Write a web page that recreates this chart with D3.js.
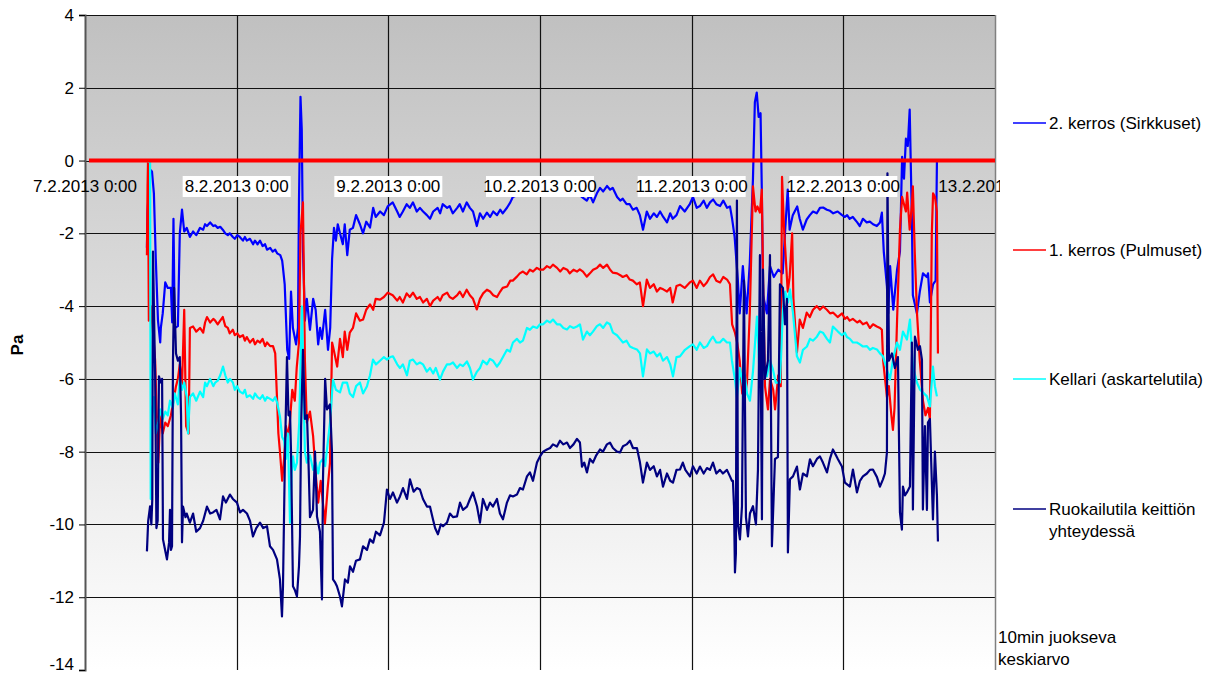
<!DOCTYPE html>
<html>
<head>
<meta charset="utf-8">
<script src="https://cdn.jsdelivr.net/npm/d3@7.9.0/dist/d3.min.js"></script>
<style>
  body { margin: 0; background: #fff; }
  svg { display: block; font-family: "Liberation Sans", Arial, sans-serif; }
</style>
</head>
<body>
<svg id="chart" width="1212" height="674"></svg>
<script>
// hours since 7.2.2013 0:00, Pa
const xLabels = ['7.2.2013 0:00', '8.2.2013 0:00', '9.2.2013 0:00', '10.2.2013 0:00',
  '11.2.2013 0:00', '12.2.2013 0:00', '13.2.2013 0:00'];
const xLabelHours = [0, 24, 48, 72, 96, 120, 144];
const yTicks = [4, 2, 0, -2, -4, -6, -8, -10, -12, -14];

const names = ['2. kerros (Sirkkuset)', '1. kerros (Pulmuset)', 'Kellari (askartelutila)', 'Ruokailutila keittiön|yhteydessä'];
const colors = ['#0000ff', '#ff0000', '#00ffff', '#000080'];

const sirkkuset = [
  [9.8,-2.4],[9.9,-1.4],[10.3,-0.25],[10.6,-0.3],[10.9,-0.9],[11.2,-2.7],[11.55,-4.4],[11.9,-5.0],[12.0,-4.6],[12.3,-4.2],
  [12.7,-3.35],[13.1,-3.5],[13.6,-3.5],[13.8,-4.45],[14.0,-1.6],[14.2,-4.6],[14.7,-4.55],[15.0,-2.0],[15.35,-1.35],[15.7,-1.95],
  [16.1,-1.85],[16.6,-2.1],[17.1,-1.95],[17.6,-2.05],[18.2,-1.85],[18.7,-1.9],[19.0,-1.75],[19.3,-1.8],[19.8,-1.7],[20.3,-1.8],
  [20.6,-1.78],[21.0,-1.85],[21.4,-1.82],[21.8,-1.9],[22.2,-2.0],[22.6,-2.05],[22.9,-2.0],[23.4,-2.1],[23.7,-2.15],[24.1,-2.05],
  [24.5,-2.1],[25.0,-2.2],[25.3,-2.1],[25.6,-2.2],[26.1,-2.15],[26.6,-2.3],[26.9,-2.2],[27.3,-2.3],[27.7,-2.2],[28.1,-2.35],
  [28.5,-2.3],[28.8,-2.45],[29.3,-2.4],[29.7,-2.5],[30.1,-2.45],[30.4,-2.55],[30.9,-2.6],[31.2,-2.75],[31.3,-2.9],
  [31.6,-3.4],[32.0,-5.2],[32.3,-5.45],[32.6,-3.6],[32.9,-4.6],[33.4,-5.05],[33.7,-4.6],[33.86,-1.1],[34.1,1.75],[34.3,0.85],
  [34.5,-2.5],[34.8,-4.4],[35.1,-3.8],[35.6,-4.65],[36.1,-3.8],[36.5,-4.1],[36.9,-5.05],[37.2,-4.6],[37.5,-4.9],[38.0,-4.1],
  [38.45,-5.2],[38.8,-4.6],[39.1,-2.7],[39.4,-1.85],[39.7,-2.2],[40.0,-1.75],[40.35,-2.0],[40.8,-2.3],[41.1,-1.75],[41.5,-2.6],
  [41.9,-1.9],[42.4,-1.85],[42.9,-1.5],[43.5,-1.75],[44.0,-2.0],[44.5,-1.68],[45.1,-1.84],[45.6,-1.3],[46.0,-1.55],[46.7,-1.4],
  [47.3,-1.5],[47.9,-1.26],[48.7,-1.15],[49.4,-1.4],[49.8,-1.55],[50.3,-1.4],[50.9,-1.2],[51.4,-1.3],[51.9,-1.15],[52.5,-1.4],
  [53.0,-1.3],[53.5,-1.4],[54.1,-1.5],[54.6,-1.6],[55.1,-1.4],[55.8,-1.3],[56.2,-1.45],[56.6,-1.2],[57.3,-1.3],[57.7,-1.25],
  [58.2,-1.45],[58.9,-1.3],[59.3,-1.2],[59.8,-1.4],[60.4,-1.15],[60.9,-1.3],[61.4,-1.4],[62.0,-1.8],[62.5,-1.45],[63.0,-1.6],
  [63.6,-1.43],[64.1,-1.55],[64.6,-1.4],[65.2,-1.5],[65.7,-1.35],[66.1,-1.45],[66.8,-1.29],[67.3,-1.15],[67.7,-1.0],[68.35,-0.95],
  [69.0,-0.85],[69.9,-0.75],[70.9,-0.9],[72.0,-0.8],[73.1,-0.7],[74.1,-0.85],[75.2,-0.75],[76.3,-0.85],[77.3,-0.8],[78.3,-0.9],
  [78.6,-1.0],[79.4,-1.1],[79.9,-0.95],[80.4,-1.15],[81.0,-0.9],[81.5,-0.75],[82.0,-0.85],[82.6,-0.7],[83.1,-0.8],[83.5,-0.75],
  [84.2,-1.0],[84.7,-1.1],[85.1,-1.05],[85.7,-1.2],[86.2,-1.2],[86.7,-1.35],[87.3,-1.3],[87.8,-1.5],[88.3,-1.9],[88.9,-1.4],
  [89.4,-1.6],[90.0,-1.45],[90.5,-1.55],[91.0,-1.4],[91.5,-1.55],[92.1,-1.7],[92.6,-1.45],[93.0,-1.6],[93.6,-1.5],[94.15,-1.25],
  [94.9,-1.4],[95.7,-1.2],[96.2,-1.0],[96.8,-1.3],[97.3,-1.25],[97.9,-1.1],[98.4,-1.3],[98.9,-1.15],[99.4,-1.07],[99.9,-1.2],
  [100.5,-1.25],[101.0,-1.1],[101.6,-1.3],[102.06,-1.26],[102.4,-1.6],[102.8,-2.1],[103.3,-3.27],[103.6,-4.2],[104.1,-2.9],[104.7,-4.2],
  [105.2,-2.8],[105.7,-0.5],[106.0,1.6],[106.3,1.87],[106.6,1.2],[106.9,1.3],[107.1,-0.8],[107.3,-3.7],[107.9,-4.2],[108.4,-2.9],
  [109.0,-3.2],[109.7,-3.0],[110.4,-3.1],[110.8,-1.9],[111.2,-0.8],[111.5,-1.9],[112.0,-1.5],[112.7,-1.26],[113.1,-1.6],[113.6,-1.9],
  [114.2,-1.62],[114.7,-1.5],[115.2,-1.4],[115.8,-1.45],[116.3,-1.3],[116.8,-1.29],[117.4,-1.35],[117.9,-1.38],[118.4,-1.45],[119.1,-1.4],
  [119.8,-1.5],[120.25,-1.55],[120.6,-1.5],[121.0,-1.6],[121.5,-1.55],[122.2,-1.7],[122.6,-1.8],[123.1,-1.6],[123.7,-1.7],[124.2,-1.68],
  [124.7,-1.75],[125.3,-1.8],[125.8,-1.7],[126.1,-1.43],[126.4,-2.5],[126.9,-3.46],[127.1,-4.2],[127.4,-2.9],[127.9,-4.1],[128.5,-3.0],
  [128.96,-2.5],[129.3,0.1],[129.6,-0.5],[129.9,0.6],[130.2,0.4],[130.5,1.4],[130.85,-1.62],[131.0,-3.7],[131.65,-4.2],[132.1,-3.6],
  [132.6,-3.1],[133.2,-3.2],[133.4,-3.1],[133.7,-3.9],[134.2,-3.4],[134.6,-3.3],[134.81,-0.03]
];

const pulmuset = [
  [9.8,-2.6],[9.9,-0.7],[9.97,-0.03],[10.1,-4.4],[10.4,-4.0],[10.7,-4.6],[11.1,-5.5],[11.4,-7.3],[11.6,-8.3],[11.9,-7.0],
  [12.3,-7.5],[12.7,-7.2],[13.1,-7.3],[13.6,-7.0],[14.0,-6.6],[14.4,-6.2],[14.7,-6.0],[15.0,-5.6],[15.35,-6.2],[15.7,-4.1],
  [16.0,-7.3],[16.4,-7.5],[16.6,-4.6],[17.1,-4.56],[17.6,-4.7],[18.2,-4.6],[18.7,-4.73],[19.0,-4.45],[19.3,-4.3],[19.8,-4.45],
  [20.3,-4.35],[20.6,-4.4],[21.0,-4.5],[21.4,-4.4],[21.8,-4.3],[22.2,-4.55],[22.6,-4.6],[22.9,-4.75],[23.4,-4.65],[23.7,-4.8],
  [24.1,-4.75],[24.5,-4.85],[25.0,-4.8],[25.3,-4.95],[25.6,-4.85],[26.1,-5.0],[26.6,-4.9],[26.9,-5.05],[27.3,-4.95],[27.7,-5.0],
  [28.1,-4.9],[28.5,-5.1],[28.8,-5.0],[29.3,-5.1],[29.75,-5.1],[30.1,-5.3],[30.4,-6.6],[30.6,-7.5],[30.85,-8.0],[31.2,-8.8],
  [31.5,-8.2],[31.8,-7.3],[32.1,-7.6],[32.4,-7.2],[32.8,-6.3],[33.2,-6.6],[33.5,-5.7],[33.86,-5.0],[34.1,-2.0],[34.49,-1.15],
  [34.8,-5.5],[35.1,-7.2],[35.6,-6.9],[36.1,-7.58],[36.5,-8.6],[36.9,-9.4],[37.3,-8.8],[37.7,-9.5],[37.97,-9.97],[38.4,-9.0],
  [38.77,-8.3],[39.1,-5.0],[39.24,-5.1],[39.9,-5.66],[40.35,-4.9],[40.8,-5.4],[41.1,-4.7],[41.5,-5.2],[41.9,-4.73],[42.4,-4.6],
  [42.9,-4.2],[43.5,-4.4],[44.0,-4.37],[44.5,-4.1],[45.1,-3.95],[45.6,-4.1],[46.0,-3.8],[46.7,-3.82],[47.3,-3.75],[47.9,-3.63],
  [48.7,-3.7],[49.4,-3.85],[49.8,-3.75],[50.3,-3.9],[50.9,-3.65],[51.4,-3.75],[51.9,-3.63],[52.5,-3.8],[53.0,-3.75],[53.5,-3.9],
  [54.1,-3.8],[54.6,-4.0],[55.1,-3.85],[55.8,-3.75],[56.2,-3.85],[56.6,-3.7],[57.3,-3.63],[57.7,-3.75],[58.2,-3.8],[58.9,-3.7],
  [59.3,-3.6],[59.8,-3.75],[60.4,-3.55],[60.9,-3.7],[61.4,-3.8],[62.0,-4.09],[62.5,-3.8],[63.0,-3.65],[63.6,-3.55],[64.1,-3.6],
  [64.6,-3.7],[65.2,-3.75],[65.7,-3.6],[66.1,-3.5],[66.8,-3.46],[67.3,-3.3],[67.7,-3.3],[68.35,-3.19],[68.8,-3.1],[69.3,-3.05],
  [69.9,-3.13],[70.4,-3.0],[70.9,-3.05],[71.5,-2.95],[72.0,-3.0],[72.5,-3.0],[73.1,-2.9],[73.6,-2.95],[74.05,-2.86],[74.7,-2.95],
  [75.2,-3.05],[75.7,-2.95],[76.3,-3.0],[76.7,-3.1],[77.3,-3.0],[77.85,-3.05],[78.3,-2.99],[78.8,-3.05],[79.4,-3.19],[79.9,-3.1],
  [80.4,-3.0],[81.0,-2.95],[81.5,-2.86],[82.0,-2.95],[82.6,-2.86],[83.1,-3.0],[83.5,-3.08],[84.2,-3.1],[84.7,-3.15],[85.1,-3.2],
  [85.7,-3.15],[86.2,-3.27],[86.7,-3.3],[87.3,-3.4],[87.8,-3.35],[88.3,-4.0],[88.9,-3.27],[89.4,-3.5],[90.0,-3.4],[90.5,-3.6],
  [91.0,-3.5],[91.5,-3.54],[92.1,-3.6],[92.6,-3.5],[93.0,-3.9],[93.6,-3.45],[94.15,-3.41],[94.9,-3.5],[95.7,-3.35],[96.2,-3.3],
  [96.8,-3.5],[97.3,-3.3],[97.9,-3.45],[98.4,-3.35],[98.9,-3.2],[99.4,-3.13],[99.9,-3.3],[100.5,-3.35],[101.0,-3.2],[101.6,-3.27],
  [102.06,-3.4],[102.4,-4.5],[102.85,-4.73],[103.2,-5.0],[103.6,-5.5],[104.0,-6.4],[104.4,-6.5],[104.75,-6.1],[105.2,-4.18],[105.7,-0.71],
  [106.1,-1.4],[106.4,-1.26],[106.8,-1.43],[107.1,-0.8],[107.3,-3.27],[107.6,-6.2],[108.07,-6.84],[108.4,-6.0],[108.9,-6.3],[109.2,-6.84],
  [109.7,-5.9],[110.1,-6.2],[110.3,-0.45],[110.6,-1.8],[110.8,-2.4],[111.2,-3.6],[111.5,-3.2],[111.9,-2.0],[112.1,-3.8],[112.66,-5.27],
  [113.1,-4.37],[113.6,-4.6],[114.2,-4.18],[114.7,-4.3],[115.2,-4.1],[115.8,-4.0],[116.3,-4.1],[116.8,-4.01],[117.4,-4.1],[117.9,-4.2],
  [118.4,-4.18],[119.1,-4.3],[119.8,-4.2],[120.25,-4.35],[120.6,-4.3],[121.0,-4.4],[121.5,-4.35],[122.2,-4.45],[122.6,-4.4],[123.1,-4.5],
  [123.7,-4.45],[124.2,-4.6],[124.7,-4.5],[125.3,-4.56],[125.8,-4.6],[126.1,-4.65],[126.3,-5.5],[126.6,-6.0],[126.9,-6.5],[127.2,-6.2],
  [127.6,-7.0],[127.85,-7.4],[128.1,-6.8],[128.5,-4.4],[128.96,-1.9],[129.3,-1.0],[129.6,-1.2],[129.9,-1.4],[130.1,-0.88],[130.5,-1.9],
  [130.85,-1.2],[131.0,-0.71],[131.3,-2.5],[131.65,-4.18],[132.1,-5.5],[132.6,-6.6],[133.0,-7.0],[133.4,-6.8],[133.7,-7.1],[134.0,-2.0],
  [134.2,-0.9],[134.5,-1.0],[134.8,-1.4],[134.97,-5.3]
];

const kellari = [
  [9.9,-0.03],[10.3,-0.03],[10.4,-9.3],[10.6,-7.0],[10.9,-6.5],[11.2,-7.5],[11.6,-7.2],[11.9,-6.84],[12.3,-7.1],[12.7,-6.9],
  [13.1,-7.0],[13.45,-6.6],[13.9,-6.8],[14.2,-6.4],[14.7,-6.7],[15.0,-6.0],[15.35,-6.3],[15.7,-6.1],[16.1,-6.5],[16.3,-7.5],
  [16.6,-6.5],[17.1,-6.4],[17.6,-6.6],[18.2,-6.35],[18.7,-6.5],[19.0,-6.1],[19.3,-6.2],[19.8,-6.0],[20.3,-6.2],[20.6,-6.1],
  [21.0,-6.05],[21.4,-5.9],[21.84,-5.66],[22.2,-5.9],[22.6,-6.1],[22.94,-6.0],[23.4,-6.1],[23.7,-6.3],[24.05,-6.2],[24.5,-6.35],
  [25.0,-6.4],[25.3,-6.3],[25.6,-6.5],[26.1,-6.45],[26.6,-6.55],[26.9,-6.4],[27.3,-6.5],[27.7,-6.55],[28.1,-6.45],[28.5,-6.6],
  [28.8,-6.5],[29.3,-6.55],[29.75,-6.6],[30.1,-6.5],[30.4,-6.65],[30.85,-7.03],[31.2,-7.6],[31.5,-7.7],[31.8,-8.2],[32.1,-7.5],
  [32.44,-9.95],[32.7,-8.6],[32.91,-8.13],[33.2,-8.5],[33.54,-8.3],[33.9,-7.2],[34.1,-5.66],[34.34,-4.01],[34.6,-6.5],[34.8,-8.0],
  [35.1,-8.3],[35.6,-8.1],[36.1,-8.5],[36.5,-8.3],[36.9,-8.6],[37.18,-8.3],[37.66,-8.2],[38.0,-8.4],[38.29,-7.94],[38.77,-7.2],
  [39.24,-6.02],[39.7,-6.3],[40.35,-6.37],[40.8,-6.1],[41.46,-6.1],[41.9,-6.4],[42.41,-6.5],[42.9,-6.2],[43.51,-6.1],[44.0,-6.4],
  [44.62,-6.2],[45.1,-5.9],[45.57,-5.47],[46.04,-5.6],[46.68,-5.5],[47.3,-5.4],[47.78,-5.47],[48.3,-5.4],[48.73,-5.38],[49.4,-5.6],
  [49.84,-5.7],[50.3,-5.6],[50.95,-5.9],[51.4,-5.5],[51.9,-5.47],[52.5,-5.6],[53.0,-5.55],[53.48,-5.6],[54.1,-5.8],[54.6,-5.7],
  [55.1,-5.85],[55.5,-5.7],[56.17,-6.02],[56.65,-5.8],[57.28,-5.6],[57.75,-5.6],[58.23,-5.55],[58.86,-5.7],[59.34,-5.6],[59.81,-5.65],
  [60.44,-5.52],[60.92,-5.7],[61.39,-6.02],[62.03,-5.8],[62.5,-5.7],[62.97,-5.5],[63.61,-5.6],[64.08,-5.45],[64.56,-5.5],[65.19,-5.66],
  [65.66,-5.55],[66.14,-5.4],[66.77,-5.2],[67.25,-5.25],[67.72,-5.0],[68.35,-4.9],[68.83,-5.0],[69.3,-4.95],[69.94,-4.6],[70.41,-4.65],
  [70.89,-4.56],[71.52,-4.6],[72.0,-4.5],[72.5,-4.5],[73.1,-4.4],[73.6,-4.45],[74.05,-4.37],[74.68,-4.5],[75.16,-4.5],[75.7,-4.6],
  [76.27,-4.64],[76.74,-4.55],[77.3,-4.6],[77.85,-4.56],[78.32,-4.5],[78.8,-4.92],[79.43,-4.7],[79.9,-4.8],[80.38,-4.7],[81.0,-4.55],
  [81.49,-4.5],[82.0,-4.6],[82.59,-4.45],[83.07,-4.5],[83.54,-4.73],[84.18,-4.8],[84.65,-4.9],[85.13,-5.0],[85.7,-4.95],[86.23,-5.11],
  [86.71,-5.15],[87.34,-5.19],[87.82,-5.3],[88.29,-5.93],[88.92,-5.19],[89.4,-5.3],[90.0,-5.25],[90.5,-5.38],[91.0,-5.3],[91.46,-5.5],
  [92.09,-5.4],[92.6,-5.6],[93.04,-5.93],[93.6,-5.4],[94.15,-5.38],[94.94,-5.2],[95.73,-5.1],[96.2,-5.05],[96.8,-5.2],[97.31,-5.0],
  [97.9,-5.15],[98.42,-5.1],[98.9,-4.95],[99.37,-4.84],[99.9,-5.0],[100.47,-5.0],[101.0,-4.9],[101.58,-5.0],[102.06,-5.0],[102.37,-5.5],
  [102.85,-6.02],[103.16,-6.5],[103.64,-5.7],[104.11,-6.2],[104.43,-5.9],[104.75,-6.4],[105.22,-6.6],[105.7,-5.8],[106.33,-4.29],[106.8,-6.1],
  [107.3,-5.8],[107.91,-5.93],[108.39,-5.5],[108.86,-5.74],[109.3,-6.1],[109.97,-6.1],[110.44,-4.09],[110.8,-3.6],[111.23,-3.9],[111.55,-3.54],
  [112.03,-4.18],[112.66,-5.38],[113.13,-5.55],[113.61,-5.2],[114.24,-5.11],[114.72,-4.9],[115.19,-4.95],[115.82,-4.84],[116.3,-4.7],[116.77,-4.73],
  [117.41,-4.9],[117.88,-5.0],[118.35,-4.56],[119.15,-4.7],[119.78,-4.8],[120.25,-4.73],[120.57,-4.85],[121.04,-4.9],[121.52,-5.0],[122.15,-5.0],
  [122.63,-5.05],[123.1,-5.11],[123.73,-5.1],[124.21,-5.2],[124.68,-5.15],[125.32,-5.19],[125.79,-5.3],[126.27,-5.38],[126.9,-5.74],[127.37,-6.02],
  [127.85,-5.47],[128.48,-5.0],[128.96,-5.2],[129.43,-4.7],[130.06,-4.92],[130.54,-4.37],[131.01,-5.66],[131.65,-6.1],[132.12,-6.29],[132.59,-6.37],
  [133.23,-6.48],[133.7,-6.76],[134.18,-5.66],[134.49,-6.2],[134.81,-6.48]
];

const ruokailutila = [
  [9.8,-10.74],[10.0,-9.9],[10.3,-9.5],[10.5,-10.0],[10.65,-9.3],[10.76,-2.5],[10.9,-4.0],[11.1,-5.9],[11.3,-10.1],[11.5,-9.9],
  [11.7,-5.93],[12.0,-6.1],[12.2,-6.0],[12.34,-10.41],[12.66,-10.69],[12.97,-10.96],[13.3,-10.5],[13.45,-9.6],[13.6,-10.7],[13.77,-10.6],
  [13.92,-5.5],[14.1,-3.5],[14.4,-5.3],[14.7,-5.5],[15.0,-5.4],[15.2,-7.0],[15.35,-10.49],[15.51,-9.51],[15.9,-9.8],[16.1,-9.7],
  [16.6,-9.95],[17.1,-9.7],[17.6,-10.2],[18.2,-10.1],[18.7,-9.9],[19.3,-9.51],[19.8,-9.7],[20.25,-9.67],[20.8,-9.6],[21.36,-9.86],
  [21.84,-9.23],[22.3,-9.4],[22.94,-9.18],[23.4,-9.3],[24.05,-9.4],[24.53,-9.67],[25.0,-9.6],[25.63,-9.7],[26.11,-9.9],[26.58,-10.33],
  [27.1,-10.1],[27.69,-9.95],[28.2,-10.1],[28.8,-10.05],[29.27,-10.6],[29.75,-10.7],[30.38,-10.96],[30.85,-11.51],[31.17,-12.53],[31.33,-11.7],
  [31.65,-8.0],[31.96,-5.4],[32.2,-7.0],[32.44,-6.9],[32.6,-8.0],[32.91,-11.7],[33.2,-11.8],[33.54,-11.98],[33.86,-11.15],[34.02,-10.33],
  [34.2,-7.3],[34.49,-5.2],[34.8,-7.1],[35.13,-7.0],[35.4,-8.5],[35.6,-9.8],[36.08,-9.6],[36.4,-8.0],[36.71,-9.78],[37.18,-10.2],
  [37.5,-12.06],[37.66,-8.76],[38.0,-6.0],[38.29,-6.84],[38.77,-6.7],[39.08,-8.0],[39.24,-11.51],[39.6,-11.6],[39.87,-11.7],[40.35,-11.98],
  [40.66,-12.25],[41.14,-11.51],[41.6,-11.6],[41.93,-11.15],[42.41,-11.3],[42.88,-11.0],[43.51,-10.96],[44.0,-10.6],[44.62,-10.7],[45.09,-10.41],
  [45.6,-10.5],[46.04,-10.2],[46.68,-10.3],[47.31,-9.95],[47.78,-9.04],[48.26,-9.3],[48.73,-9.12],[49.37,-9.4],[49.84,-9.23],[50.32,-9.0],
  [50.95,-9.3],[51.42,-8.76],[52.0,-9.1],[52.53,-9.0],[53.0,-9.04],[53.48,-9.3],[54.11,-9.51],[54.59,-9.51],[55.06,-9.86],[55.4,-10.1],
  [55.85,-10.27],[56.3,-10.0],[56.65,-10.05],[57.28,-9.95],[57.75,-9.7],[58.23,-9.8],[58.86,-9.78],[59.34,-9.4],[59.81,-9.6],[60.44,-9.51],
  [60.92,-9.3],[61.39,-9.12],[62.03,-9.5],[62.5,-9.95],[62.97,-9.3],[63.61,-9.6],[64.08,-9.4],[64.56,-9.51],[65.19,-9.3],[65.66,-9.7],
  [66.14,-9.86],[66.77,-9.4],[67.25,-9.2],[67.72,-9.23],[68.35,-9.18],[68.83,-9.0],[69.3,-9.04],[69.94,-8.68],[70.41,-8.57],[70.89,-8.8],
  [71.52,-8.3],[72.0,-8.13],[72.5,-8.0],[73.1,-7.94],[73.6,-7.9],[74.05,-7.8],[74.68,-7.86],[75.16,-7.7],[75.7,-7.8],[76.27,-7.75],
  [76.74,-7.9],[77.3,-7.8],[77.85,-7.65],[78.32,-7.75],[78.64,-8.41],[79.0,-8.3],[79.43,-8.57],[79.9,-8.2],[80.38,-8.3],[80.9,-8.1],
  [81.49,-7.94],[81.96,-8.0],[82.59,-7.8],[83.07,-7.75],[83.54,-7.9],[84.18,-8.0],[84.65,-8.02],[85.13,-7.85],[85.7,-7.8],[86.23,-7.7],
  [86.71,-7.9],[87.34,-7.9],[87.82,-8.3],[88.29,-8.85],[88.92,-8.3],[89.4,-8.5],[90.0,-8.4],[90.5,-8.68],[91.0,-8.5],[91.46,-8.96],
  [92.09,-8.6],[92.6,-8.8],[93.04,-8.85],[93.6,-8.5],[94.15,-8.49],[94.6,-8.3],[95.0,-8.5],[95.73,-8.68],[96.2,-8.4],[96.8,-8.6],
  [97.31,-8.41],[97.9,-8.6],[98.42,-8.45],[98.9,-8.5],[99.37,-8.3],[99.9,-8.6],[100.47,-8.5],[100.95,-8.6],[101.58,-8.5],[102.06,-8.68],
  [102.37,-8.8],[102.53,-8.8],[102.7,-9.5],[102.85,-11.32],[103.0,-10.8],[103.16,-1.1],[103.32,-10.0],[103.64,-10.41],[103.96,-9.5],[104.27,-3.3],
  [104.59,-9.8],[104.91,-10.33],[105.22,-9.7],[105.7,-9.5],[106.17,-10.0],[106.49,-8.5],[106.8,-2.6],[107.12,-9.86],[107.28,-3.0],[107.59,-6.0],
  [108.07,-5.5],[108.39,-2.6],[108.7,-10.6],[109.18,-8.2],[109.65,-8.15],[109.97,-3.4],[110.44,-3.5],[110.76,-4.5],[111.08,-3.8],[111.23,-10.77],
  [111.55,-8.76],[112.03,-8.68],[112.66,-8.41],[113.13,-9.04],[113.61,-8.6],[114.24,-8.68],[114.72,-8.21],[115.19,-8.4],[115.82,-8.2],[116.3,-8.13],
  [116.77,-8.3],[117.41,-8.57],[117.88,-8.2],[118.35,-7.94],[118.83,-8.1],[119.15,-8.21],[119.78,-8.41],[120.25,-8.85],[121.04,-8.96],[121.52,-8.49],
  [122.15,-9.12],[122.63,-8.8],[123.1,-8.68],[123.73,-8.6],[124.21,-8.5],[124.68,-8.49],[125.32,-8.7],[125.79,-8.96],[126.27,-8.76],[126.58,-8.6],
  [126.9,-8.02],[126.98,-0.35],[127.22,-5.5],[127.69,-5.3],[128.16,-5.7],[128.64,-5.4],[128.96,-9.67],[129.27,-10.14],[129.43,-8.96],[129.75,-9.2],
  [130.06,-9.12],[130.54,-8.96],[130.85,-5.0],[131.01,-9.59],[131.33,-4.84],[131.8,-5.2],[132.12,-5.1],[132.44,-5.47],[132.59,-9.59],[132.91,-7.3],
  [133.23,-9.6],[133.39,-7.2],[133.7,-7.1],[134.18,-9.86],[134.49,-8.0],[134.81,-9.2],[134.97,-10.47]
];

const seriesData = [sirkkuset, pulmuset, kellari, ruokailutila];

const svg = d3.select('#chart');
const plot = { left: 85, right: 995, top: 15, bottom: 670 };
const fontSize = 17;

let x = d3.scaleLinear().domain([0, 144]).range([plot.left, plot.right]);
let y = d3.scaleLinear().domain([-14, 4]).range([plot.bottom, plot.top]);

// background gradient
let defs = svg.append('defs');
let grad = defs.append('linearGradient').attr('id', 'bg').attr('x1', 0).attr('y1', 0).attr('x2', 0).attr('y2', 1);
grad.append('stop').attr('offset', '0%').attr('stop-color', '#c0c0c0');
grad.append('stop').attr('offset', '100%').attr('stop-color', '#ffffff');
defs.append('clipPath').attr('id', 'clip')
  .append('rect').attr('x', 0).attr('y', 0).attr('width', 1000).attr('height', 674);

svg.append('rect')
  .attr('x', plot.left).attr('y', plot.top)
  .attr('width', plot.right - plot.left).attr('height', plot.bottom - plot.top)
  .attr('fill', 'url(#bg)');

// grid
svg.append('g')
  .selectAll('line')
  .data(yTicks.filter(d => d > -14))
  .join('line')
  .attr('x1', plot.left).attr('x2', plot.right)
  .attr('y1', d => Math.round(y(d)) + 0.5).attr('y2', d => Math.round(y(d)) + 0.5)
  .attr('stroke', '#111').attr('stroke-width', 1.2);

svg.append('g')
  .selectAll('line')
  .data(xLabelHours.slice(1, -1))
  .join('line')
  .attr('x1', d => Math.round(x(d)) + 0.5).attr('x2', d => Math.round(x(d)) + 0.5)
  .attr('y1', plot.top).attr('y2', plot.bottom)
  .attr('stroke', '#111').attr('stroke-width', 1.2);

svg.append('line')
  .attr('x1', plot.right + 0.5).attr('x2', plot.right + 0.5)
  .attr('y1', plot.top).attr('y2', plot.bottom)
  .attr('stroke', '#808080').attr('stroke-width', 1.5);

// series
let line = d3.line().x(d => x(d[0])).y(d => y(d[1]));

seriesData.forEach((data, idx) => {
  svg.append('path')
    .attr('d', line(data))
    .attr('fill', 'none')
    .attr('stroke', colors[idx])
    .attr('stroke-width', 2.2)
    .attr('stroke-linejoin', 'round');
});

// zero line (category axis)
svg.append('line')
  .attr('x1', plot.left + 4).attr('x2', plot.right)
  .attr('y1', y(0)).attr('y2', y(0))
  .attr('stroke', '#ff0000').attr('stroke-width', 4);

// y axis
let yAxis = d3.axisLeft(y).tickValues(yTicks).tickSize(6).tickPadding(5).tickFormat(d => String(d));
let yg = svg.append('g')
  .attr('transform', `translate(${plot.left},0)`)
  .call(yAxis);
yg.select('.domain').attr('stroke', '#555').attr('stroke-width', 2);
yg.selectAll('.tick line').attr('stroke', '#000');
yg.selectAll('.tick text')
  .attr('font-size', fontSize).attr('fill', '#000')
  .attr('font-family', '"Liberation Sans", Arial, sans-serif')
  .attr('dy', d => d === -14 ? '-0.05em' : '0.32em');

svg.append('text')
  .attr('transform', 'translate(23,345) rotate(-90)')
  .attr('text-anchor', 'middle')
  .attr('font-size', fontSize).attr('font-weight', 'bold')
  .text('Pa');

// date labels along the zero line
let labels = svg.append('g').attr('clip-path', 'url(#clip)');
xLabels.forEach((lab, i) => {
  let cx = x(xLabelHours[i]);
  if (i > 0 && i < xLabels.length - 1) {
    labels.append('rect')
      .attr('x', cx - 54).attr('y', 176)
      .attr('width', 108).attr('height', 21)
      .attr('fill', '#fff');
  }
  labels.append('text')
    .attr('x', cx).attr('y', 192)
    .attr('text-anchor', 'middle')
    .attr('font-size', fontSize)
    .text(lab);
});

// legend
let legendY = [123, 250, 379, 509];
names.forEach((name, idx) => {
  let g = svg.append('g').attr('transform', `translate(1013,${legendY[idx]})`);
  g.append('line').attr('x1', 0).attr('x2', 33).attr('y1', 0).attr('y2', 0)
    .attr('stroke', colors[idx]).attr('stroke-width', 1.5);
  name.split('|').forEach((part, k) => {
    g.append('text').attr('x', 36).attr('y', 6 + k * 22)
      .attr('font-size', fontSize).text(part);
  });
});

svg.append('text').attr('x', 998).attr('y', 643).attr('font-size', fontSize).text('10min juokseva');
svg.append('text').attr('x', 998).attr('y', 665).attr('font-size', fontSize).text('keskiarvo');
</script>
</body>
</html>
